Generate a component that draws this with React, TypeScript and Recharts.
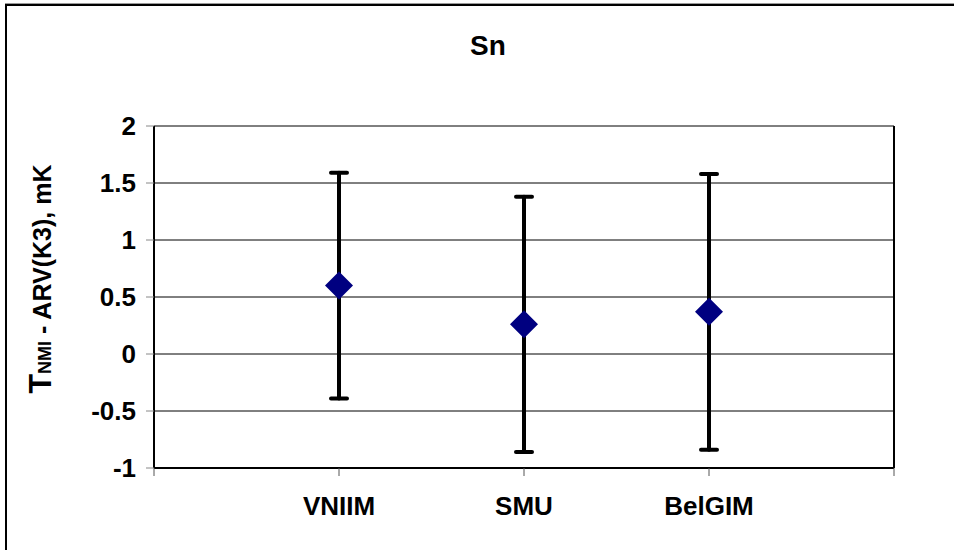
import React from "react";
import {
  ScatterChart,
  Scatter,
  XAxis,
  YAxis,
  CartesianGrid,
  ErrorBar,
  ReferenceLine,
} from "recharts";

const institutes = ["VNIIM", "SMU", "BelGIM"];
const positions = [1, 2, 3];
const deviations = [0.6, 0.26, 0.37];
const uncertainties = [0.99, 1.12, 1.21];
const xTicks = [0, 1, 2, 3, 4];
const yTicks = [-1, -0.5, 0, 0.5, 1, 1.5, 2];

const data = institutes.map((name, i) => ({
  name,
  x: positions[i],
  y: deviations[i],
  err: uncertainties[i],
}));

const FONT = "Arial, 'Liberation Sans', sans-serif";

const Diamond = (props: { cx?: number; cy?: number }) => {
  const { cx = 0, cy = 0 } = props;
  const r = 14;
  return (
    <polygon
      points={`${cx},${cy - r} ${cx + r},${cy} ${cx},${cy + r} ${cx - r},${cy}`}
      fill="#000080"
    />
  );
};

const YLabel = () => (
  <text
    x={0}
    y={0}
    transform="translate(51, 279) rotate(-90)"
    textAnchor="middle"
    fontFamily={FONT}
    fontWeight="bold"
    fill="#000"
  >
    <tspan fontSize={32}>T</tspan>
    <tspan fontSize={18}>NMI</tspan>
    <tspan fontSize={25}> - ARV(K3), mK</tspan>
  </text>
);

export default function App() {
  return (
    <div
      style={{
        position: "absolute",
        left: 0,
        top: 0,
        width: 954,
        height: 550,
        background: "#fff",
        fontFamily: FONT,
      }}
    >
      <div
        style={{
          position: "absolute",
          left: 5,
          top: 3,
          right: 0,
          bottom: 0,
          borderTop: "1px solid #999",
        }}
      />
      <div
        style={{
          position: "absolute",
          left: 5,
          top: 4,
          right: 0,
          bottom: 0,
          borderTop: "2px solid #000",
          borderLeft: "2px solid #000",
        }}
      />
      <div
        style={{
          position: "absolute",
          left: 0,
          top: 30,
          width: 976,
          textAlign: "center",
          fontSize: 28,
          fontWeight: "bold",
        }}
      >
        Sn
      </div>
      <div style={{ position: "absolute", left: 0, top: 0 }}>
        <ScatterChart
          width={954}
          height={550}
          margin={{ top: 126, right: 60, bottom: 0, left: 60 }}
        >
          <CartesianGrid vertical={false} stroke="#000" strokeWidth={1} />
          <XAxis
            type="number"
            dataKey="x"
            domain={[0, 4]}
            ticks={xTicks}
            interval={0}
            height={82}
            tickFormatter={(v: number) => {
              const i = positions.indexOf(v);
              return i >= 0 ? institutes[i] : "";
            }}
            axisLine={{ stroke: "#000", strokeWidth: 2 }}
            tickLine={{ stroke: "#555" }}
            tickSize={8}
            tickMargin={21}
            tick={{ fontSize: 26, fontWeight: "bold", fill: "#000", fontFamily: FONT }}
          />
          <YAxis
            type="number"
            dataKey="y"
            domain={[-1, 2]}
            ticks={yTicks}
            interval={0}
            width={94}
            tickFormatter={(v: number) => String(v)}
            axisLine={{ stroke: "#000", strokeWidth: 2 }}
            tickLine={{ stroke: "#888" }}
            tickSize={8}
            tickMargin={10}
            tick={{ fontSize: 26, fontWeight: "bold", fill: "#000", fontFamily: FONT }}
            label={<YLabel />}
          />
          <ReferenceLine x={4} stroke="#000" strokeWidth={2} />
          <Scatter data={data} shape={<Diamond />} isAnimationActive={false}>
            <ErrorBar
              dataKey="err"
              direction="y"
              width={8}
              strokeWidth={4}
              stroke="#000"
              strokeLinecap="round"
            />
          </Scatter>
        </ScatterChart>
      </div>
    </div>
  );
}
